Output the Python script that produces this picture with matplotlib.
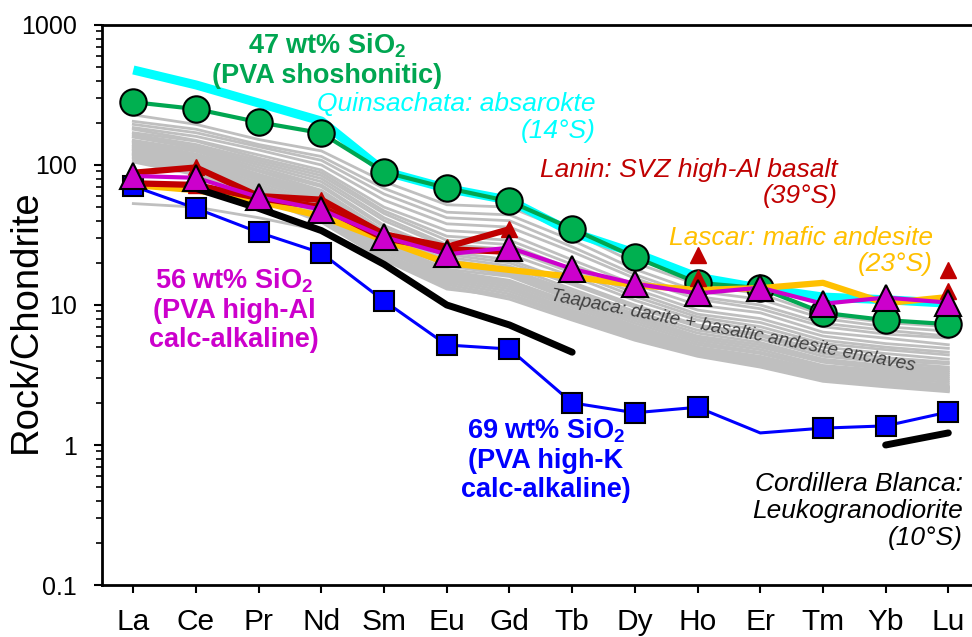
import numpy as np
import matplotlib.pyplot as plt
from matplotlib.ticker import FixedLocator, LogLocator, NullFormatter

plt.rcParams['font.family'] = ['Liberation Sans', 'DejaVu Sans']
plt.rcParams['mathtext.fontset'] = 'custom'
plt.rcParams['mathtext.rm'] = 'Liberation Sans'
plt.rcParams['mathtext.bf'] = 'Liberation Sans:bold'
plt.rcParams['mathtext.it'] = 'Liberation Sans:italic'

nan = np.nan
elements = ['La', 'Ce', 'Pr', 'Nd', 'Sm', 'Eu', 'Gd', 'Tb', 'Dy', 'Ho', 'Er', 'Tm', 'Yb', 'Lu']

# chondrite-normalised REE
pva_47 = [281, 251, 202, 169, 89, 68.5, 55, 35, 22, 14.4, 13.2, 8.8, 7.8, 7.3]
pva_56 = [83.5, 81, 59, 48, 30.6, 23.0, 25.7, 18.1, 14.2, 12.1, 13.3, 10.2, 11.3, 10.4]
pva_69 = [70.6, 49, 33, 23.5, 10.7, 5.18, 4.85, 2.0, 1.70, 1.86, 1.22, 1.32, 1.37, 1.72]
pva_69_measured = [0, 1, 2, 3, 4, 5, 6, 7, 8, 9, 11, 12, 13]  # Er has no symbol
quinsachata = [477, 373, 277, 206, 90, 68, 56, 33, 23.5, 15.8, 13.2, 11.4, 10.9, 10.3]
lascar = [72, 66, 55, 43, 29, 20, 17.8, 15.9, 13.9, 12.8, 13.2, 14.4, 10.3, 11.4]
lanin_a = [88, 96, 60, 56.5, 32, 26, 34.8, nan, nan, 22.8, nan, nan, nan, 17.9]
lanin_b = [74, 72, 58, 50, 30, 25, 24, nan, nan, 15.5, nan, nan, nan, 12.5]
cordillera = [nan, 68, 49, 34, 19.5, 10.0, 7.2, 4.6, nan, nan, nan, nan, 1.0, 1.22]

taapaca = [
    [228, 195, 152, 126, 76, 52, 50, 33, 20, 14.0, 12.0, 8.5, 7.5, 7.0],
    [205, 180, 140, 115, 68, 46, 44, 29, 18, 12.5, 11.0, 8.0, 7.0, 6.5],
    [195, 170, 135, 108, 62, 42, 40, 26, 16.5, 11.5, 10.0, 7.4, 6.6, 6.0],
    [185, 160, 128, 100, 56, 38, 36, 24, 15.5, 11.0, 9.4, 7.0, 6.2, 5.8],
    [180, 150, 118, 92, 50, 34, 32, 21, 14.0, 10.0, 8.8, 6.4, 5.8, 5.2],
    [170, 148, 112, 88, 47, 31, 29, 19.5, 13.0, 9.2, 8.0, 6.0, 5.3, 4.9],
    [165, 140, 108, 84, 45, 29, 27, 18.0, 12.2, 8.6, 7.5, 5.6, 5.0, 4.6],
    [160, 135, 104, 80, 42, 27, 25, 17.0, 11.5, 8.2, 7.0, 5.3, 4.8, 4.4],
    [158, 132, 100, 76, 40, 26, 23, 16.0, 10.8, 7.8, 6.6, 5.0, 4.5, 4.1],
    [150, 128, 96, 72, 37, 24, 21, 14.5, 10.0, 7.2, 6.2, 4.7, 4.2, 3.9],
    [148, 125, 92, 70, 36, 23, 20, 14.0, 9.6, 7.0, 6.0, 4.5, 4.0, 3.8],
    [145, 120, 90, 66, 34, 22, 19, 13.0, 9.0, 6.6, 5.7, 4.3, 3.9, 3.6],
    [140, 118, 86, 64, 32, 21, 18, 12.5, 8.6, 6.3, 5.4, 4.1, 3.7, 3.5],
    [138, 115, 84, 62, 31, 20, 17.5, 12.0, 8.3, 6.0, 5.2, 4.0, 3.6, 3.4],
    [135, 112, 82, 60, 30, 19.5, 17, 11.5, 8.0, 5.8, 5.0, 3.9, 3.5, 3.3],
    [132, 110, 80, 58, 29, 19, 16.5, 11.2, 7.7, 5.6, 4.8, 3.7, 3.4, 3.2],
    [130, 108, 78, 56, 28, 18, 16, 10.8, 7.4, 5.4, 4.6, 3.6, 3.3, 3.1],
    [128, 105, 75, 54, 27, 17.5, 15, 10.4, 7.1, 5.2, 4.5, 3.5, 3.2, 3.0],
    [125, 102, 72, 52, 26, 17, 14.5, 10.0, 6.9, 5.0, 4.3, 3.4, 3.1, 2.9],
    [122, 100, 70, 50, 25, 16.5, 14, 9.6, 6.7, 4.9, 4.2, 3.3, 3.0, 2.8],
    [120, 98, 68, 48, 24, 16, 13.5, 9.2, 6.5, 4.8, 4.1, 3.2, 2.9, 2.7],
    [118, 95, 66, 46, 23, 15.5, 13, 9.0, 6.3, 4.7, 4.0, 3.1, 2.8, 2.6],
    [115, 92, 64, 45, 22.5, 15, 12.5, 8.7, 6.1, 4.6, 3.9, 3.0, 2.75, 2.55],
    [112, 90, 62, 43, 22, 14.5, 12, 8.4, 5.9, 4.5, 3.8, 2.95, 2.7, 2.5],
    [108, 88, 60, 41, 21.5, 14, 11.5, 8.1, 5.7, 4.4, 3.7, 2.9, 2.65, 2.45],
    [105, 85, 58, 39, 21, 13.5, 11, 7.8, 5.6, 4.3, 3.6, 2.85, 2.6, 2.4],
    [53, 50, 42, 34, 21, 13, 11.5, 8.2, 6.0, 4.6, 3.9, 3.0, 2.8, 2.6],
]

x = np.arange(len(elements))

fig = plt.figure(figsize=(9.72, 6.37), dpi=100)
ax = fig.add_axes([0.1049, 0.0816, 0.903, 0.8792])

for row in taapaca:
    ax.plot(x, row, color='#BFBFBF', lw=2.0, zorder=1)

ax.plot(x, quinsachata, color='#00FFFF', lw=6.5, solid_capstyle='butt', zorder=2)
ax.plot(x, pva_47, color='#00A651', lw=3, marker='o', ms=19,
        mfc='#00B050', mec='black', mew=1.5, zorder=3)
ax.plot(x, lascar, color='#FFC000', lw=4.5, zorder=4)
for row in (lanin_a, lanin_b):
    ax.plot(x, row, color='#C00000', lw=4.5, marker='^', ms=11,
            mfc='#C00000', mec='#C00000', zorder=5)
ax.plot(x, cordillera, color='black', lw=5, solid_capstyle='round', zorder=6)
ax.plot(x, pva_69, color='#0000FF', lw=2.2, marker='s', ms=15, markevery=pva_69_measured,
        mfc='#0000FF', mec='black', mew=1.5, zorder=7)
ax.plot(x, pva_56, color='#CC00CC', lw=3, marker='^', ms=19,
        mfc='#CC00CC', mec='black', mew=1.5, zorder=8)

ax.set_yscale('log')
ax.set_ylim(0.1, 1000)
ax.set_xlim(-0.5, 13.5)

ax.yaxis.set_major_locator(FixedLocator([0.1, 1, 10, 100, 1000]))
ax.set_yticklabels(['0.1', '1', '10', '100', '1000'])
ax.yaxis.set_minor_locator(LogLocator(base=10, subs=np.arange(2, 10)))
ax.yaxis.set_minor_formatter(NullFormatter())
ax.tick_params(axis='y', which='major', length=6, width=1.5, labelsize=18, pad=12)
ax.tick_params(axis='y', which='minor', length=4, width=1.2)

ax.set_xticks(x)
ax.set_xticklabels(elements)
ax.tick_params(axis='x', length=6, width=1.5, labelsize=21.5, pad=10.5)

for side in ('left', 'bottom', 'top'):
    ax.spines[side].set_linewidth(2)
ax.spines['right'].set_visible(False)

fig.text(26 / 972, 1 - 321 / 637, 'Rock/Chondrite', fontsize=27.5, rotation=90,
         ha='center', va='center')

# labels for each pattern
bold = dict(fontsize=19.5, fontweight='bold', ha='center', va='center', linespacing=1.15)
ital = dict(fontsize=19, style='italic', ha='right', va='center',
            multialignment='right', linespacing=1.15)
ax.text(3.09, 560, '47 wt% SiO$_\\mathbf{2}$\n(PVA shoshonitic)', color='#00A651', **bold)
ax.text(7.38, 217, 'Quinsachata: absarokte\n(14°S)', color='#00FFFF', **ital)
ax.text(11.24, 74.4, 'Lanin: SVZ high-Al basalt\n(39°S)', color='#C00000', **ital)
ax.text(12.75, 24.3, 'Lascar: mafic andesite\n(23°S)', color='#FFC000', **ital)
ax.text(13.23, 0.338, 'Cordillera Blanca:\nLeukogranodiorite\n(10°S)', color='black', **ital)
ax.text(1.61, 9.21, '56 wt% SiO$_\\mathbf{2}$\n(PVA high-Al\ncalc-alkaline)', color='#CC00CC', **bold)
ax.text(6.58, 0.78, '69 wt% SiO$_\\mathbf{2}$\n(PVA high-K\ncalc-alkaline)', color='#0000FF', **bold)
ax.text(9.56, 6.52, 'Taapaca: dacite + basaltic andesite enclaves', color='#404040',
        fontsize=13.5, style='italic', ha='center', va='center', rotation=-11,
        rotation_mode='anchor', zorder=9)

fig.savefig('out.png', dpi=100)
